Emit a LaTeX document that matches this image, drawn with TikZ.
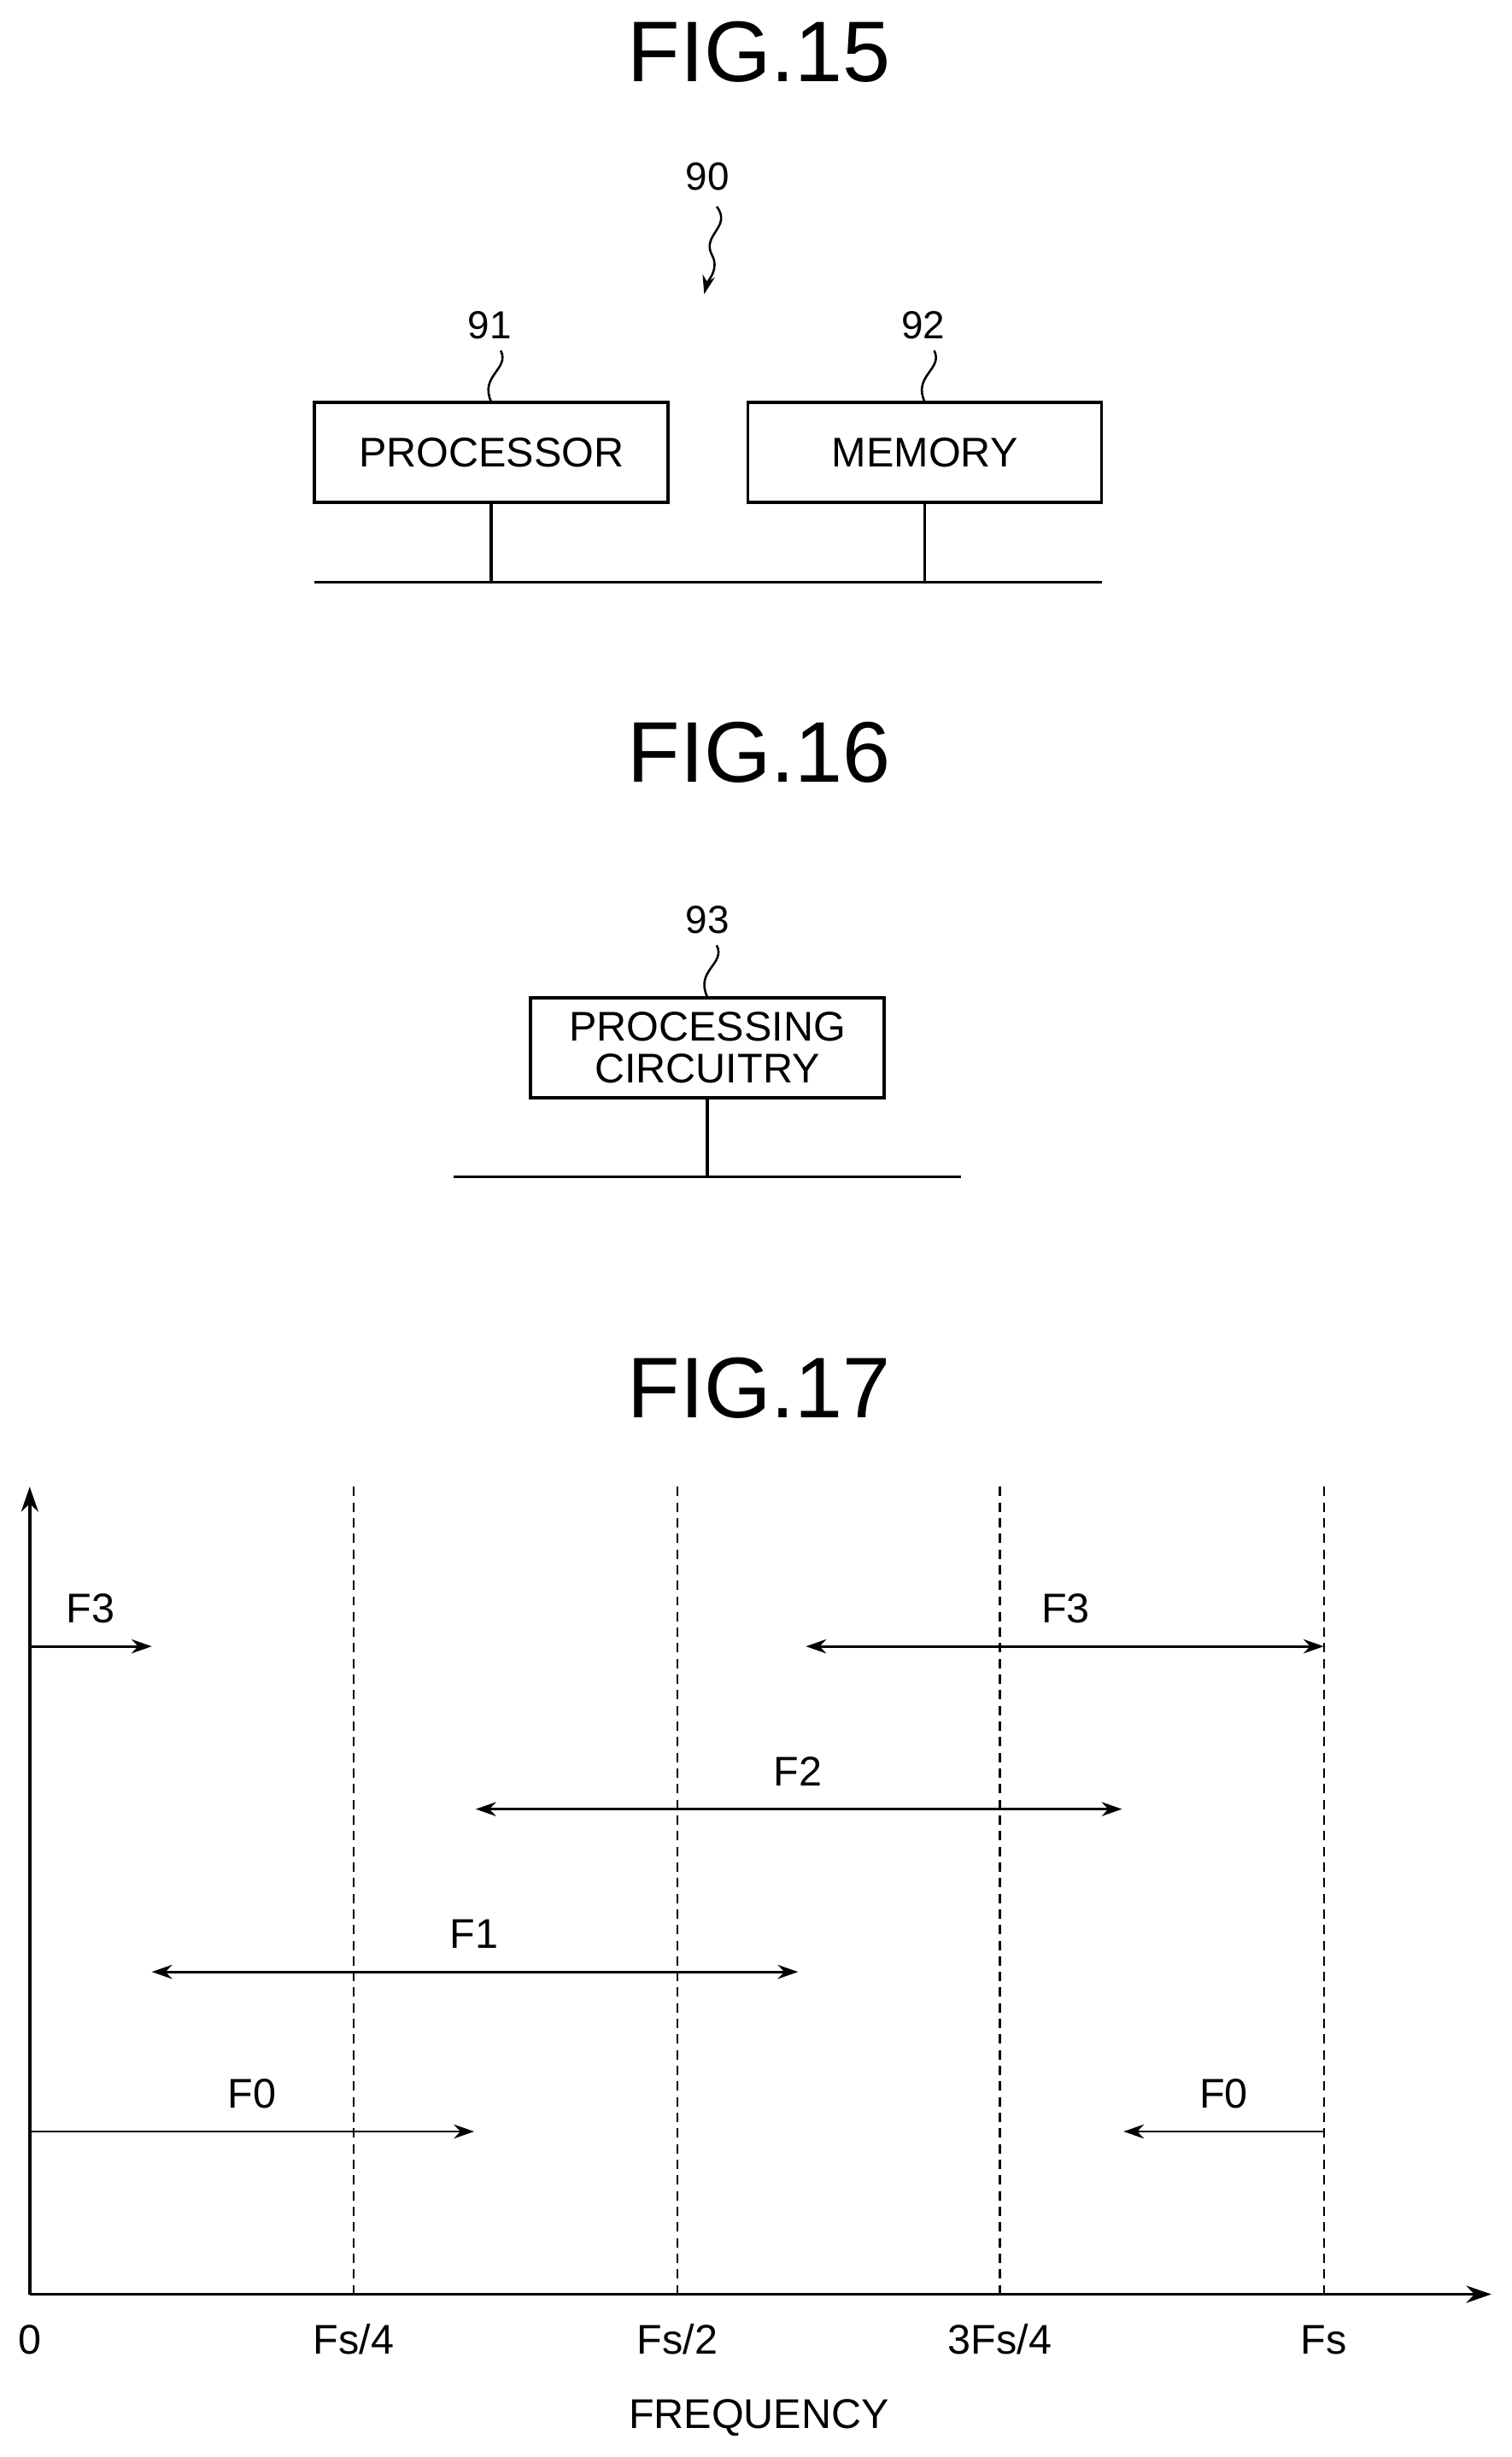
\documentclass[tikz,border=0pt]{standalone}
\usepackage{fontspec}
\setmainfont{Liberation Sans}
\usetikzlibrary{arrows.meta}
\begin{document}
\begin{tikzpicture}[x=1pt,y=-1pt,
  title/.style={font=\fontsize{55}{55}\selectfont},
  lbl/.style={font=\fontsize{26.5}{28}\selectfont},
  num/.style={font=\fontsize{25}{25}\selectfont},
  box/.style={draw,line width=2pt,minimum width=226pt,minimum height=64pt,inner sep=0pt,align=center,font=\fontsize{26.5}{28}\selectfont},
  ln/.style={line width=2pt},
  arr/.style={line width=1.6pt,-{Stealth[length=13pt,width=9pt]}},
  darr/.style={line width=1.6pt,{Stealth[length=13pt,width=9pt]}-{Stealth[length=13pt,width=9pt]}},
  sq/.style={line width=1.4pt}]
\useasboundingbox (0,0) rectangle (966,1570);
% FIG.15
\node[title] (t15) at (485,33) {FIG.15};
\node[num] (n90) at (452,113) {90};
\coordinate (a90) at (450,188);
\draw[sq,-{Stealth[length=12pt,width=8pt]}] (458,132) .. controls (468,145) and (448,150) .. (455,163) .. controls (460,172) and (452,180) .. (a90);
\node[box] (proc) at (314,289) {PROCESSOR};
\node[box] (mem) at (591,289) {MEMORY};
\node[num] (n91) at (313,208) {91};
\node[num] (n92) at (590,208) {92};
\draw[sq] (320,224) .. controls (326,236) and (306,240) .. (314,257);
\draw[sq] (597,224) .. controls (603,236) and (583,240) .. (591,257);
\coordinate (b1l) at (201,372); \coordinate (b1r) at (704,372);
\draw[ln] (b1l) -- (b1r);
\draw[ln] (proc.south) -- (314,372);
\draw[ln] (mem.south) -- (591,372);
% FIG.16
\node[title] (t16) at (485,481) {FIG.16};
\node[num] (n93) at (452,588) {93};
\node[box,font=\fontsize{26.5}{27}\selectfont] (pc) at (452,669.5) {PROCESSING\\CIRCUITRY};
\draw[sq] (458,604) .. controls (464,616) and (444,620) .. (452,637);
\coordinate (b2l) at (290,752); \coordinate (b2r) at (614,752);
\draw[ln] (b2l) -- (b2r);
\draw[ln] (pc.south) -- (452,752);
% FIG.17
\node[title] (t17) at (485,887) {FIG.17};
\coordinate (o) at (19,1466);
\coordinate (yt) at (19,950);
\coordinate (xt) at (953,1466);
\draw[line width=2pt,-{Stealth[length=16pt,width=11pt]}] (o) -- (yt);
\draw[line width=2pt,-{Stealth[length=16pt,width=11pt]}] (o) -- (xt);
\foreach \x in {226,433,639,846} \draw[line width=1.2pt,dash pattern=on 6pt off 4pt] (\x,950) -- (\x,1466);
\node[lbl] (l0) at (19,1495) {0};
\node[lbl] (l1) at (226,1495) {Fs/4};
\node[lbl] (l2) at (433,1495) {Fs/2};
\node[lbl] (l3) at (639,1495) {3Fs/4};
\node[lbl] (l4) at (846,1495) {Fs};
\node[lbl] (fq) at (485,1545) {FREQUENCY};
% arrows
\coordinate (f3a) at (19,1052); \coordinate (f3b) at (97,1052);
\draw[arr] (f3a) -- (f3b); \node[lbl] (lf3a) at (58,1028) {F3};
\coordinate (f3c) at (515,1052); \coordinate (f3d) at (846,1052);
\draw[darr] (f3c) -- (f3d); \node[lbl] (lf3b) at (681,1028) {F3};
\coordinate (f2a) at (304,1156); \coordinate (f2b) at (717,1156);
\draw[darr] (f2a) -- (f2b); \node[lbl] (lf2) at (510,1132) {F2};
\coordinate (f1a) at (97,1260); \coordinate (f1b) at (510,1260);
\draw[darr] (f1a) -- (f1b); \node[lbl] (lf1) at (303,1236) {F1};
\coordinate (f0a) at (19,1362); \coordinate (f0b) at (303,1362);
\draw[arr] (f0a) -- (f0b); \node[lbl] (lf0a) at (161,1338) {F0};
\coordinate (f0c) at (846,1362); \coordinate (f0d) at (718,1362);
\draw[arr] (f0c) -- (f0d); \node[lbl] (lf0b) at (782,1338) {F0};
\end{tikzpicture}
\end{document}
